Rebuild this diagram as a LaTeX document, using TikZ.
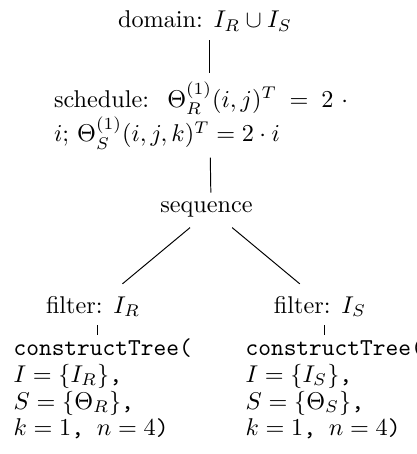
\documentclass[tikz,border=0pt]{standalone}
\begin{document}
\begin{tikzpicture}[x=0.4124pt, y=-0.4124pt, inner sep=3.33pt,
    lbl/.style={anchor=base},
    tree/.style={anchor=north west, align=left, inner ysep=1.2pt,
        font=\fontsize{10}{11.1}\selectfont},
    link/.style={transform canvas={xshift=1.9pt}}]
\useasboundingbox (0,0) rectangle (416,454);

\node[lbl] (dom) at (205,28) {domain: $I_R\cup I_S$};
\node[lbl, text width=124.5pt, align=justify] (sched) at (205,107)
    {schedule: $\Theta_R^{(1)}(i,j)^T = 2\cdot{}$\linebreak$i$; $\Theta_S^{(1)}(i,j,k)^T = 2\cdot i$};
\node[lbl, text depth=2.9pt] (seq) at (206.5,212) {sequence};
\node[lbl, text height=8.5pt] (filtR) at (93,313) {filter: $I_R$};
\node[lbl, text height=8.5pt] (filtS) at (320,313) {filter: $I_S$};

\node[tree] (treeR) at (5,335) {\texttt{constructTree(}\\
    $I=\{I_R\}$\texttt{,}\\
    $S=\{\Theta_R\}$\texttt{,}\\
    $k=1$\texttt{, }$n=4$\texttt{)}};
\node[tree] (treeS) at (237,335) {\texttt{constructTree(}\\
    $I=\{I_S\}$\texttt{,}\\
    $S=\{\Theta_S\}$\texttt{,}\\
    $k=1$\texttt{, }$n=4$\texttt{)}};

\draw[link] (dom) -- (sched);
\draw[link] (sched) -- (seq);
\draw[link] (seq) -- (filtR);
\draw[link] (seq) -- (filtS);
\draw[link] (filtR.south) -- (filtR.south |- treeR.north);
\draw[link] (filtS.south) -- (filtS.south |- treeS.north);

\end{tikzpicture}
\end{document}
